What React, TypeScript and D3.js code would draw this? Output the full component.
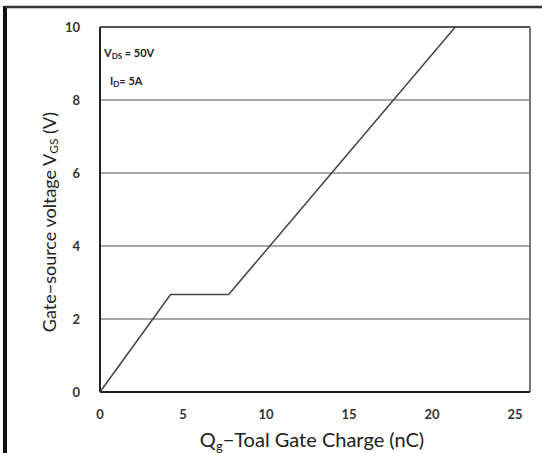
import React from "react";
import * as d3 from "d3";

const chargeNC = [0, 4.25, 7.75, 21.4];
const gateVoltage = [0, 2.67, 2.67, 10];
const xTicks = [0, 5, 10, 15, 20, 25];
const yTicks = [0, 2, 4, 6, 8, 10];
const gridValues = [2, 4, 6, 8];

const W = 542;
const H = 453;
const left = 100;
const right = 530;
const top = 27;
const bottom = 392;

export default function App() {
  const x = d3.scaleLinear().domain([0, 25.9]).range([left, right]);
  const y = d3.scaleLinear().domain([0, 10]).range([bottom, top]);
  const pts: [number, number][] = chargeNC.map((c, i) => [c, gateVoltage[i]]);
  const line = d3
    .line<[number, number]>()
    .x((d) => x(d[0]))
    .y((d) => y(d[1]));
  const font = "Lato, 'Open Sans', sans-serif";
  return (
    <svg
      width={W}
      height={H}
      style={{ position: "absolute", left: 0, top: 0, background: "#fff" }}
      fontFamily={font}
    >
      <rect x={0} y={0} width={W} height={H} fill="#fff" />
      {/* outer frame */}
      <line x1={5} x2={5} y1={6} y2={H} stroke="#111" strokeWidth={4} />
      <line x1={5} x2={W} y1={7} y2={7} stroke="#333" strokeWidth={2.5} />
      {/* gridlines */}
      {gridValues.map((v) => (
        <line key={v} x1={left} x2={right} y1={y(v)} y2={y(v)} stroke="#8a8a8a" strokeWidth={1.6} />
      ))}
      {/* plot border */}
      <line x1={left} x2={right} y1={top} y2={top} stroke="#555" strokeWidth={2} />
      <line x1={right} x2={right} y1={top} y2={bottom} stroke="#777" strokeWidth={2} />
      <line x1={left} x2={left} y1={top} y2={bottom} stroke="#222" strokeWidth={2} />
      <line x1={left} x2={right} y1={bottom} y2={bottom} stroke="#222" strokeWidth={2} />
      {/* curve */}
      <path d={line(pts) || ""} fill="none" stroke="#444" strokeWidth={1.5} />
      {/* y tick labels */}
      {yTicks.map((v) => (
        <text key={v} x={80} y={y(v) + 4.5} textAnchor="end" fontSize={13} fontWeight="bold" fill="#333">
          {v}
        </text>
      ))}
      {/* x tick labels */}
      {xTicks.map((v) => (
        <text key={v} x={x(v)} y={419} textAnchor="middle" fontSize={13} fontWeight="bold" fill="#333">
          {v}
        </text>
      ))}
      {/* annotations */}
      <text x={104} y={57} fontSize={11} fontWeight="bold" fill="#222">
        V<tspan fontSize={8} dy={2}>DS</tspan>
        <tspan dy={-2}> = 50V</tspan>
      </text>
      <text x={110} y={85} fontSize={11} fontWeight="bold" fill="#222">
        I<tspan fontSize={8} dy={2}>D</tspan>
        <tspan dy={-2}>= 5A</tspan>
      </text>
      {/* axis titles */}
      <text x={312} y={447} textAnchor="middle" fontSize={20} fill="#222">
        Q<tspan fontSize={13} dy={4}>g</tspan>
        <tspan dy={-4}>−Toal Gate Charge (nC)</tspan>
      </text>
      <text
        transform={`translate(56, 222) rotate(-90)`}
        textAnchor="middle"
        fontSize={18}
        fill="#222"
      >
        Gate−source voltage V<tspan fontSize={12} dy={2}>GS</tspan>
        <tspan dy={-2}> (V)</tspan>
      </text>
    </svg>
  );
}
